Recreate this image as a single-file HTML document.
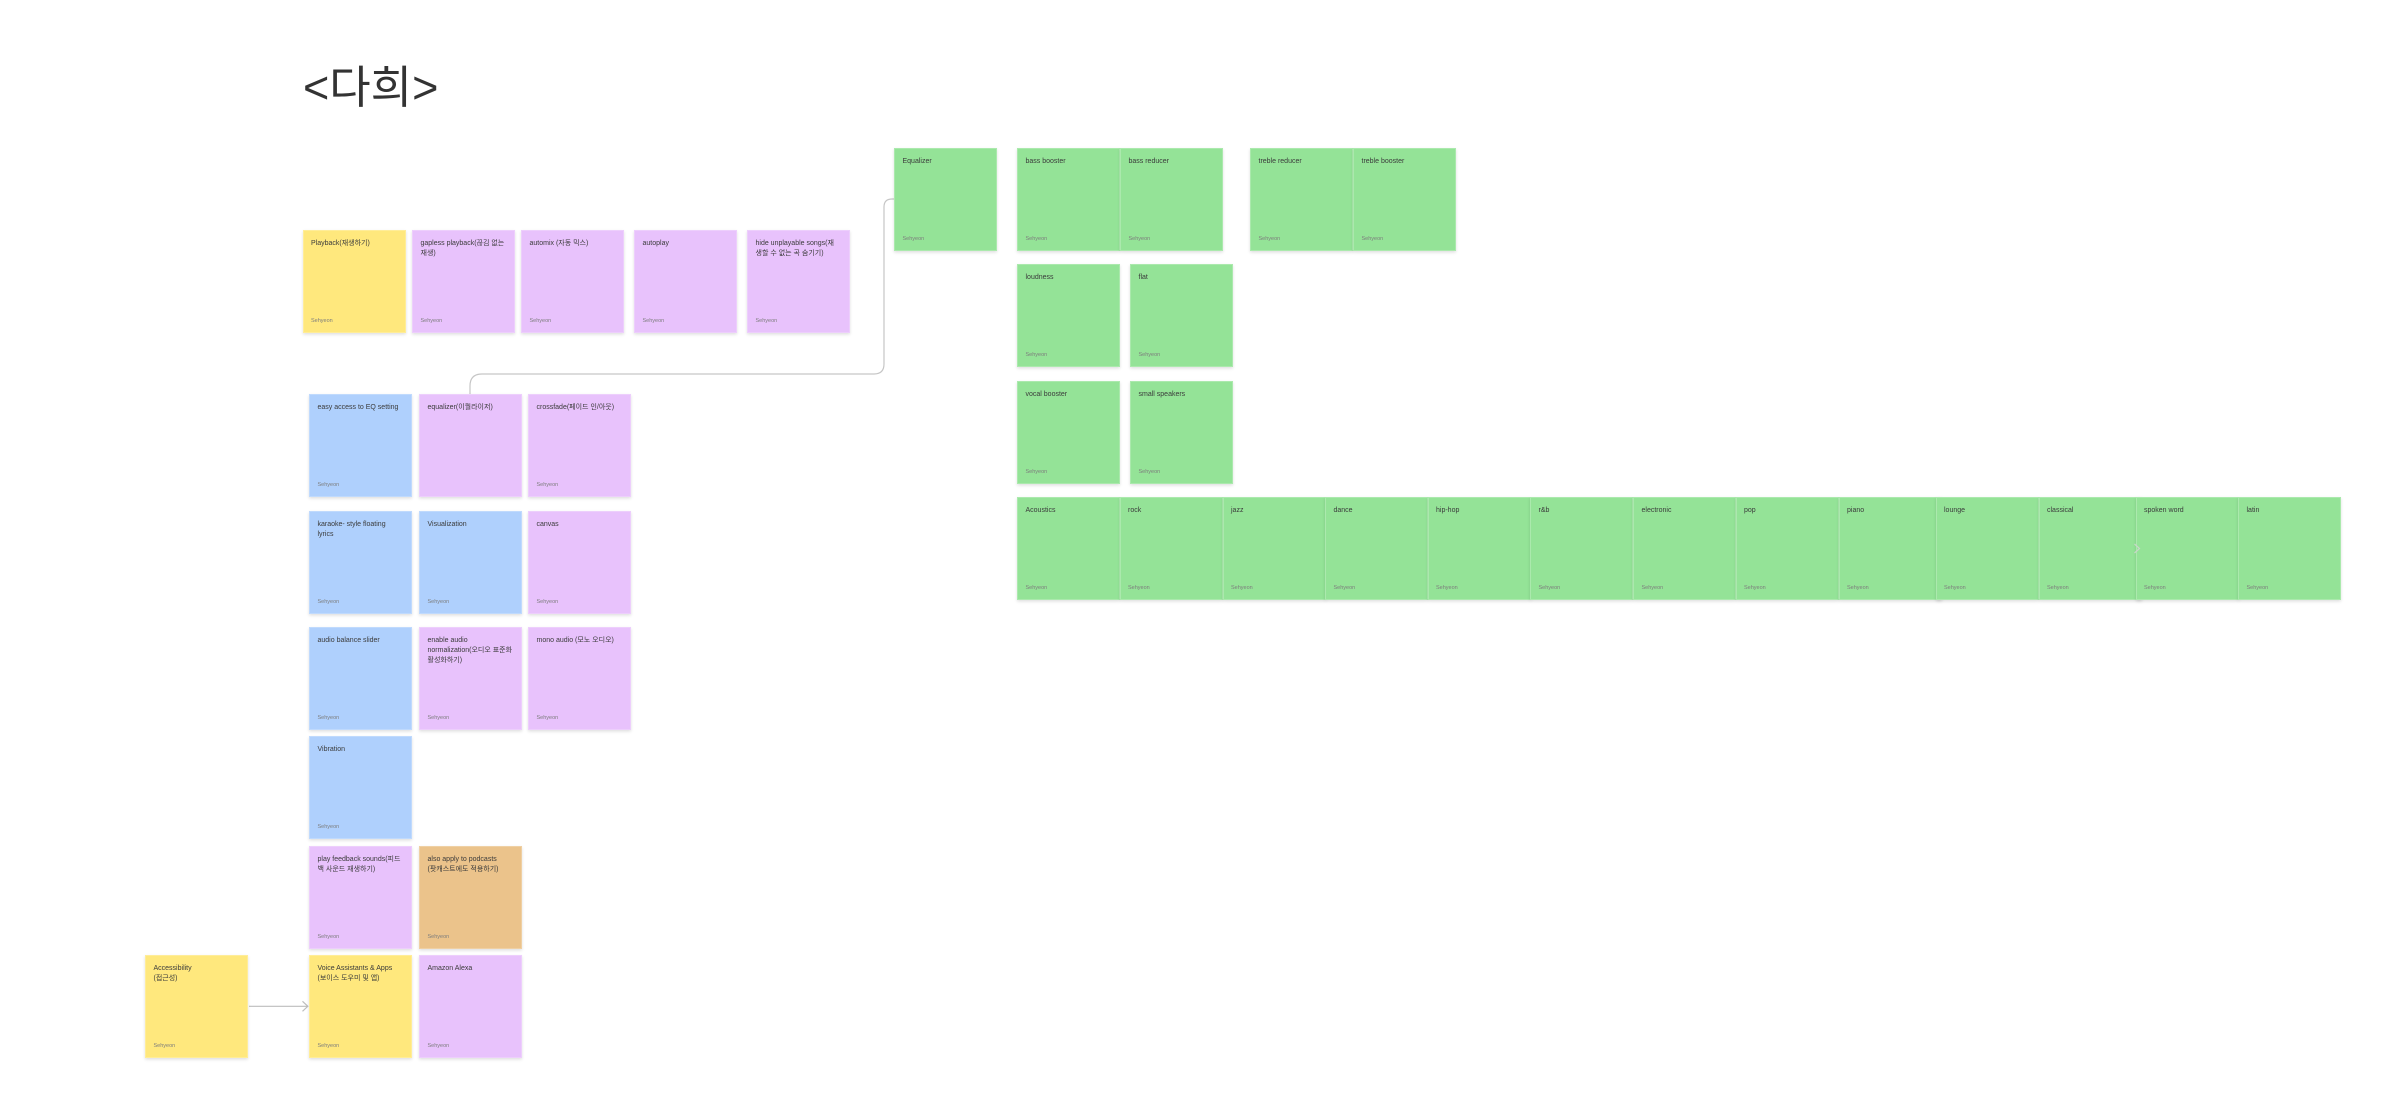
<!DOCTYPE html>
<html>
<head>
<meta charset="utf-8">
<style>
  html, body { margin:0; padding:0; background:#ffffff; }
  body { width:2400px; height:1120px; position:relative; overflow:hidden;
         font-family:"Liberation Sans","Noto Sans CJK KR",sans-serif; }
  .title { position:absolute; left:303px; top:65px; font-size:45px; line-height:45px;
           color:#333333; white-space:nowrap; font-family:"Liberation Sans","Noto Sans CJK KR",sans-serif; }
  .n { position:absolute; width:103px; height:103px; box-sizing:border-box;
       box-shadow: 0 1.5px 3px rgba(0,0,0,0.13), inset 0 0 0 1px rgba(255,255,255,0.22); }
  .n .t { position:absolute; left:8.5px; top:8.5px; font-size:7px; line-height:10.3px;
          color:#3b3b3b; white-space:nowrap; }
  .n .f { position:absolute; left:8.5px; bottom:8.5px; font-size:5.5px; line-height:7px;
          color:#7d7d7d; white-space:nowrap; }
  .y { background:#FFE87D; }
  .p { background:#E8C2FC; }
  .b { background:#AFD0FD; }
  .g { background:#94E397; }
  .o { background:#EBC38B; }
  svg { position:absolute; left:0; top:0; }
</style>
</head>
<body>

<div class="title">&lt;다희&gt;</div>

<svg width="2400" height="1120" viewBox="0 0 2400 1120">
  <path d="M470 394 V386 Q470 374 482 374 H874 Q884 374 884 364 V207 Q884 199 892 199 H894"
        fill="none" stroke="#c6c6c6" stroke-width="1.2"/>
  <line x1="249" y1="1006.3" x2="307.5" y2="1006.3" stroke="#bdbdbd" stroke-width="1.2"/>
  <polyline points="302.5,1001.3 307.8,1006.3 302.5,1011.3" fill="none" stroke="#bdbdbd" stroke-width="1.2"/>
</svg>

<!-- Row 1 -->
<div class="n y" style="left:302.5px;top:230px;"><div class="t">Playback(재생하기)</div><div class="f">Sehyeon</div></div>
<div class="n p" style="left:412px;top:230px;"><div class="t">gapless playback(끊김 없는<br>재생)</div><div class="f">Sehyeon</div></div>
<div class="n p" style="left:521px;top:230px;"><div class="t">automix (자동 믹스)</div><div class="f">Sehyeon</div></div>
<div class="n p" style="left:634px;top:230px;"><div class="t">autoplay</div><div class="f">Sehyeon</div></div>
<div class="n p" style="left:747px;top:230px;"><div class="t">hide unplayable songs(재<br>생할 수 없는 곡 숨기기)</div><div class="f">Sehyeon</div></div>

<!-- Left grid -->
<div class="n b" style="left:309px;top:394px;"><div class="t">easy access to EQ setting</div><div class="f">Sehyeon</div></div>
<div class="n p" style="left:419px;top:394px;"><div class="t">equalizer(이퀄라이저)</div></div>
<div class="n p" style="left:528px;top:394px;"><div class="t">crossfade(페이드 인/아웃)</div><div class="f">Sehyeon</div></div>

<div class="n b" style="left:309px;top:511px;"><div class="t">karaoke- style floating<br>lyrics</div><div class="f">Sehyeon</div></div>
<div class="n b" style="left:419px;top:511px;"><div class="t">Visualization</div><div class="f">Sehyeon</div></div>
<div class="n p" style="left:528px;top:511px;"><div class="t">canvas</div><div class="f">Sehyeon</div></div>

<div class="n b" style="left:309px;top:627px;"><div class="t">audio balance slider</div><div class="f">Sehyeon</div></div>
<div class="n p" style="left:419px;top:627px;"><div class="t">enable audio<br>normalization(오디오 표준화<br>활성화하기)</div><div class="f">Sehyeon</div></div>
<div class="n p" style="left:528px;top:627px;"><div class="t">mono audio (모노 오디오)</div><div class="f">Sehyeon</div></div>

<div class="n b" style="left:309px;top:736px;"><div class="t">Vibration</div><div class="f">Sehyeon</div></div>

<div class="n p" style="left:309px;top:846px;"><div class="t">play feedback sounds(피드<br>백 사운드 재생하기)</div><div class="f">Sehyeon</div></div>
<div class="n o" style="left:419px;top:846px;"><div class="t">also apply to podcasts<br>(팟캐스트에도 적용하기)</div><div class="f">Sehyeon</div></div>

<div class="n y" style="left:145px;top:955px;"><div class="t">Accessibility<br>(접근성)</div><div class="f">Sehyeon</div></div>
<div class="n y" style="left:309px;top:955px;"><div class="t">Voice Assistants &amp; Apps<br>(보이스 도우미 및 앱)</div><div class="f">Sehyeon</div></div>
<div class="n p" style="left:419px;top:955px;"><div class="t">Amazon Alexa</div><div class="f">Sehyeon</div></div>

<!-- Green -->
<div class="n g" style="left:894px;top:148px;"><div class="t">Equalizer</div><div class="f">Sehyeon</div></div>
<div class="n g" style="left:1017px;top:148px;"><div class="t">bass booster</div><div class="f">Sehyeon</div></div>
<div class="n g" style="left:1120px;top:148px;"><div class="t">bass reducer</div><div class="f">Sehyeon</div></div>
<div class="n g" style="left:1250px;top:148px;"><div class="t">treble reducer</div><div class="f">Sehyeon</div></div>
<div class="n g" style="left:1353px;top:148px;"><div class="t">treble booster</div><div class="f">Sehyeon</div></div>

<div class="n g" style="left:1017px;top:264px;"><div class="t">loudness</div><div class="f">Sehyeon</div></div>
<div class="n g" style="left:1130px;top:264px;"><div class="t">flat</div><div class="f">Sehyeon</div></div>

<div class="n g" style="left:1017px;top:381px;"><div class="t">vocal booster</div><div class="f">Sehyeon</div></div>
<div class="n g" style="left:1130px;top:381px;"><div class="t">small speakers</div><div class="f">Sehyeon</div></div>

<!-- Genre row -->
<div class="n g" style="left:1017px;top:497px;"><div class="t">Acoustics</div><div class="f">Sehyeon</div></div>
<div class="n g" style="left:1119.5px;top:497px;"><div class="t">rock</div><div class="f">Sehyeon</div></div>
<div class="n g" style="left:1222.5px;top:497px;"><div class="t">jazz</div><div class="f">Sehyeon</div></div>
<div class="n g" style="left:1325px;top:497px;"><div class="t">dance</div><div class="f">Sehyeon</div></div>
<div class="n g" style="left:1427.5px;top:497px;"><div class="t">hip-hop</div><div class="f">Sehyeon</div></div>
<div class="n g" style="left:1530px;top:497px;"><div class="t">r&amp;b</div><div class="f">Sehyeon</div></div>
<div class="n g" style="left:1633px;top:497px;"><div class="t">electronic</div><div class="f">Sehyeon</div></div>
<div class="n g" style="left:1735.5px;top:497px;"><div class="t">pop</div><div class="f">Sehyeon</div></div>
<div class="n g" style="left:1838.5px;top:497px;"><div class="t">piano</div><div class="f">Sehyeon</div></div>
<div class="n g" style="left:1935.5px;top:497px;"><div class="t">lounge</div><div class="f">Sehyeon</div></div>
<div class="n g" style="left:2038.5px;top:497px;"><div class="t">classical</div><div class="f">Sehyeon</div></div>
<div class="n g" style="left:2135.5px;top:497px;"><div class="t">spoken word</div><div class="f">Sehyeon</div></div>
<div class="n g" style="left:2238px;top:497px;width:102.7px;"><div class="t">latin</div><div class="f">Sehyeon</div></div>

<svg width="2400" height="1120" viewBox="0 0 2400 1120" style="pointer-events:none;">
  <polyline points="2134.5,544 2139.5,548.5 2134.5,553" fill="none" stroke="#c9d6c9" stroke-width="1.2"/>
</svg>

</body>
</html>
